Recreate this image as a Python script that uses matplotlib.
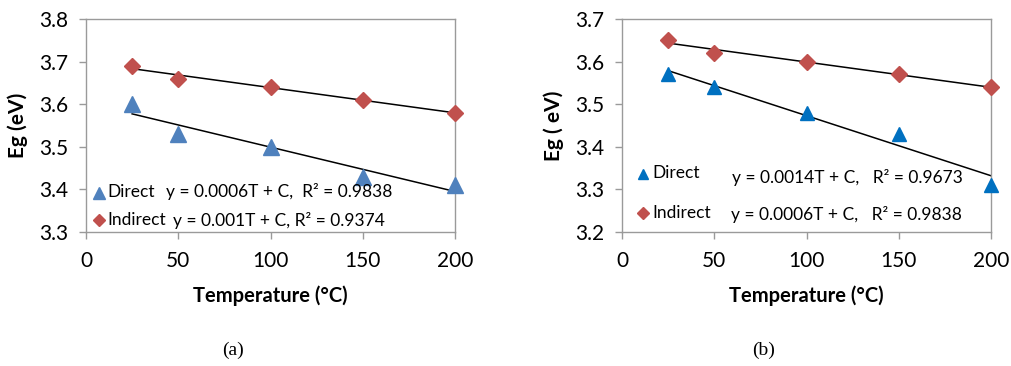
import numpy as np
import matplotlib
matplotlib.use("Agg")
import matplotlib.pyplot as plt

temps = [25, 50, 100, 150, 200]
a_direct = [3.60, 3.53, 3.50, 3.43, 3.41]
a_indirect = [3.69, 3.66, 3.64, 3.61, 3.58]
b_direct = [3.57, 3.54, 3.48, 3.43, 3.31]
b_indirect = [3.65, 3.62, 3.60, 3.57, 3.54]

a_yticks = [3.3, 3.4, 3.5, 3.6, 3.7, 3.8]
b_yticks = [3.2, 3.3, 3.4, 3.5, 3.6, 3.7]
xticks = [0, 50, 100, 150, 200]

a_eq = ["y = 0.0006T + C,  R² = 0.9838", "y = 0.001T + C, R² = 0.9374"]
b_eq = ["y = 0.0014T + C,   R² = 0.9673", "y = 0.0006T + C,   R² = 0.9838"]

plt.rcParams['font.family'] = ['Lato', 'DejaVu Sans']

W, H = 1011, 366
fig = plt.figure(figsize=(W/100, H/100), dpi=100)

RED = '#C0504D'
GRAY = '#9A9A9A'

def px(l, t, r, b):
    return [l/W, 1 - b/H, (r-l)/W, (b-t)/H]

def setup(ax, yticks, ylabel):
    ax.set_xlim(0, 200)
    ax.set_ylim(yticks[0], yticks[-1])
    ax.set_xticks(xticks)
    ax.set_yticks(yticks)
    ax.set_yticklabels([f"{v:.1f}" for v in yticks])
    for s in ax.spines.values():
        s.set_color(GRAY)
        s.set_linewidth(1.0)
    ax.tick_params(direction='out', length=5, color=GRAY, width=1, labelsize=15)
    ax.tick_params(axis='x', pad=9)
    ax.tick_params(axis='y', pad=8)
    ax.set_xlabel("Temperature (°C)", fontsize=14.5, fontweight='bold', labelpad=10)
    ax.set_ylabel(ylabel, fontsize=15, fontweight='bold', labelpad=8)

def trend(ax, x, y):
    c = np.polyfit(x, y, 1)
    xs = np.array([x[0], x[-1]])
    ax.plot(xs, np.polyval(c, xs), color='black', lw=1.1, zorder=2)

FS = 12.5

# Panel (a)
ax1 = fig.add_axes(px(86, 19, 455, 232))
setup(ax1, a_yticks, "Eg (eV)")
ax1.plot(temps, a_direct, '^', color='#4F81BD', ms=11, mec='#4F81BD', zorder=3, clip_on=False)
ax1.plot(temps, a_indirect, 'D', color=RED, ms=8.5, zorder=3, clip_on=False)
trend(ax1, temps, a_direct)
trend(ax1, temps, a_indirect)
ax1.plot([7], [3.392], '^', color='#4F81BD', ms=8, clip_on=False)
ax1.plot([7], [3.329], 'D', color=RED, ms=6, clip_on=False)
ax1.text(11.8, 3.394, "Direct", fontsize=FS, va='center', ha='left')
ax1.text(43.5, 3.394, a_eq[0], fontsize=FS, va='center', ha='left')
ax1.text(11.8, 3.328, "Indirect", fontsize=FS, va='center', ha='left')
ax1.text(47, 3.328, a_eq[1], fontsize=FS, va='center', ha='left')

# Panel (b)
ax2 = fig.add_axes(px(622, 19, 991, 232))
setup(ax2, b_yticks, "Eg ( eV)")
ax2.plot(temps, b_direct, '^', color='#0070C0', ms=10, zorder=3, clip_on=False)
ax2.plot(temps, b_indirect, 'D', color=RED, ms=8.5, zorder=3, clip_on=False)
trend(ax2, temps, b_direct)
trend(ax2, temps, b_indirect)
ax2.plot([11.5], [3.337], '^', color='#0070C0', ms=6.5, clip_on=False)
ax2.plot([11.5], [3.245], 'D', color=RED, ms=6, clip_on=False)
ax2.text(16.5, 3.339, "Direct", fontsize=FS, va='center', ha='left')
ax2.text(59.5, 3.329, b_eq[0], fontsize=FS, va='center', ha='left')
ax2.text(16.5, 3.245, "Indirect", fontsize=FS, va='center', ha='left')
ax2.text(59, 3.242, b_eq[1], fontsize=FS, va='center', ha='left')

fig.text(233/W, 1 - 350/H, "(a)", family='Liberation Serif', fontsize=14, ha='center', va='center')
fig.text(764/W, 1 - 350/H, "(b)", family='Liberation Serif', fontsize=14, ha='center', va='center')

fig.savefig("out.png", dpi=100)
